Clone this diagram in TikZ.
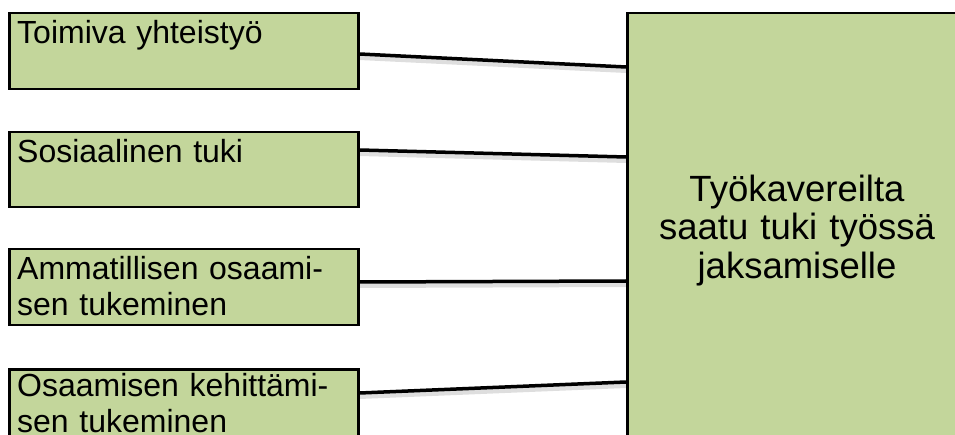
\documentclass[tikz,border=0pt]{standalone}
\usepackage{fontspec}
\setmainfont{Liberation Sans}
\usetikzlibrary{calc,backgrounds}
\definecolor{boxgreen}{HTML}{C3D69B}
\begin{document}
\begin{tikzpicture}[x=1pt,y=-1pt,
  sidebox/.style={draw=black,line width=2.5pt,fill=boxgreen,anchor=north west,
    inner sep=0pt,minimum width=349pt,minimum height=76pt},
  sidetext/.style={anchor=north west,inner sep=0pt,text width=340pt,align=left,
    font=\fontsize{32}{36}\selectfont},
  goalbox/.style={draw=black,line width=2.5pt,fill=boxgreen,anchor=north west,
    inner sep=0pt,minimum width=380pt,minimum height=460pt},
  goaltext/.style={anchor=north,inner sep=0pt,text width=320pt,align=center,
    font=\fontsize{36.5}{38.5}\selectfont},
  link/.style={line width=3.5pt,
    preaction={draw,black!13,line width=6pt,transform canvas={yshift=-3pt}}}
]
\useasboundingbox (0,0) rectangle (955,435);
\clip (0,0) rectangle (955,435);

% factor boxes on the left
\node[sidebox] (b1) at (8,12) {};
\node[sidebox,minimum height=75pt] (b2) at (8,131) {};
\node[sidebox] (b3) at (8,248) {};
\node[sidebox] (b4) at (8,368) {};

\node[sidetext] (t1) at ($(b1.north west)+(9,6)$) {\strut Toimiva yhteistyö};
\node[sidetext] (t2) at ($(b2.north west)+(9,6)$) {\strut Sosiaalinen tuki};
\node[sidetext] (t3) at ($(b3.north west)+(9,6)$) {\strut Ammatillisen osaami-\\\strut sen tukeminen};
\node[sidetext] (t4) at ($(b4.north west)+(9,3)$) {\strut Osaamisen kehittämi-\\\strut sen tukeminen};

% outcome box on the right
\node[goalbox] (goal) at (626,12) {};
\node[goaltext] (gt) at (797,174) {\strut Työkavereilta\\\strut saatu tuki työssä\\\strut jaksamiselle};

% connectors behind the boxes
\begin{scope}[on background layer]
  \draw[link] ($(b1.north east)+(0,42)$) -- ($(goal.north west)+(0,55)$);
  \draw[link] ($(b2.north east)+(0,19)$) -- ($(goal.north west)+(0,145)$);
  \draw[link] ($(b3.north east)+(0,34)$) -- ($(goal.north west)+(0,269)$);
  \draw[link] ($(b4.north east)+(0,25)$) -- ($(goal.north west)+(0,370)$);
\end{scope}
\end{tikzpicture}
\end{document}
